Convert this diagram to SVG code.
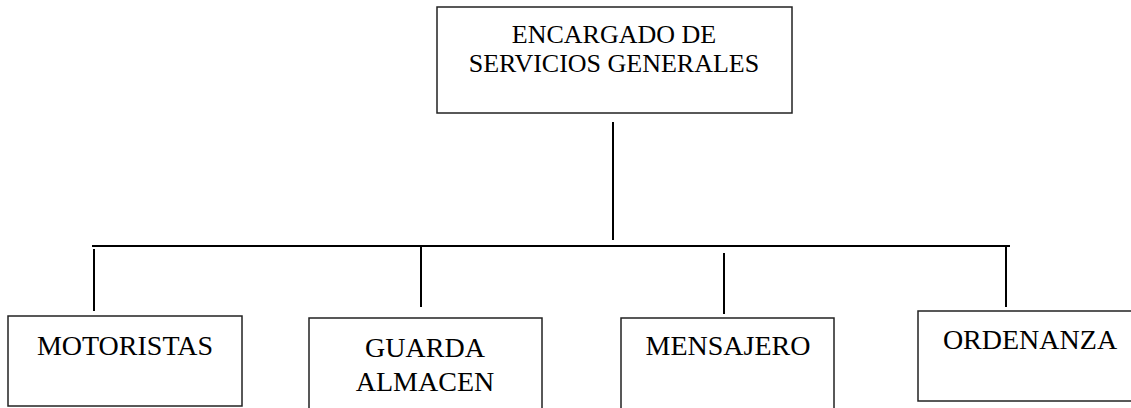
<svg xmlns="http://www.w3.org/2000/svg" width="1131" height="408" viewBox="0 0 1131 408">
<style>
.box{fill:#fff;stroke:#222;stroke-width:1.5}
.t{font-family:"Liberation Serif","Times New Roman",serif;fill:#000;text-anchor:middle}
.top{font-size:26px}
.sub{font-size:28px}
.ln{stroke:#000;stroke-width:2;fill:none}
</style>
<rect width="1131" height="408" fill="#fff"/>
<g id="connectors">
<line class="ln" x1="613" y1="122" x2="613" y2="240"/>
<line class="ln" x1="92" y1="246" x2="1010" y2="246"/>
<line class="ln" x1="94" y1="249" x2="94" y2="311"/>
<line class="ln" x1="421" y1="247" x2="421" y2="307"/>
<line class="ln" x1="724" y1="253" x2="724" y2="314"/>
<line class="ln" x1="1006" y1="246" x2="1006" y2="307"/>
</g>
<g id="encargado">
<rect class="box" x="437" y="7" width="355" height="106"/>
<text class="t top" x="614" y="43">ENCARGADO DE</text>
<text class="t top" x="614" y="72">SERVICIOS GENERALES</text>
</g>
<g id="motoristas">
<rect class="box" x="8" y="316" width="234" height="90"/>
<text class="t sub" x="125" y="355">MOTORISTAS</text>
</g>
<g id="guarda">
<rect class="box" x="309" y="318" width="233" height="100"/>
<text class="t sub" x="425" y="357">GUARDA</text>
<text class="t sub" x="425" y="391">ALMACEN</text>
</g>
<g id="mensajero">
<rect class="box" x="621" y="318" width="213" height="100"/>
<text class="t sub" x="728" y="355">MENSAJERO</text>
</g>
<g id="ordenanza">
<rect class="box" x="918" y="311" width="222" height="90"/>
<text class="t sub" x="1030" y="349">ORDENANZA</text>
</g>
</svg>
